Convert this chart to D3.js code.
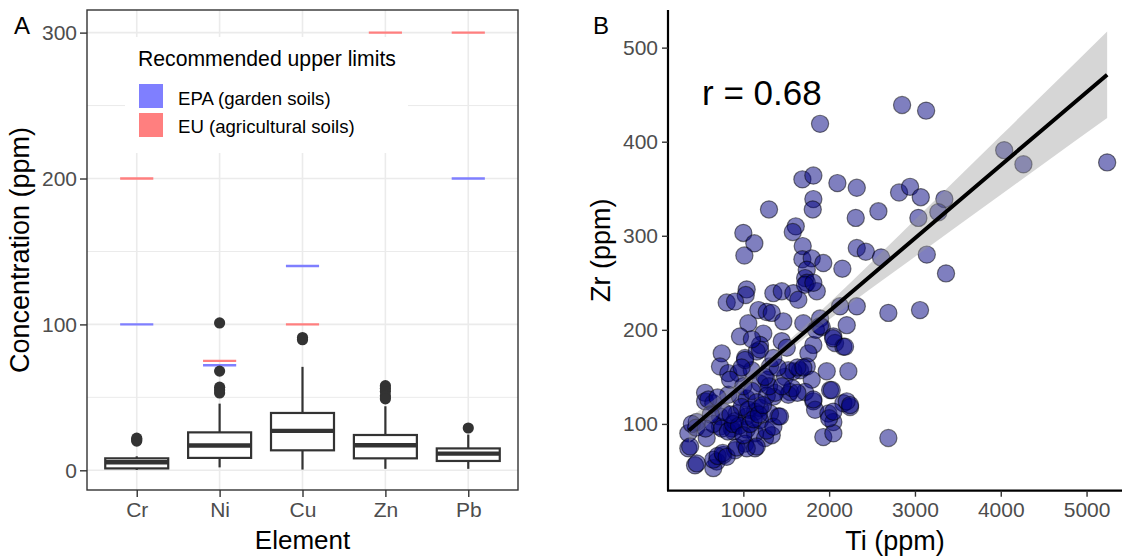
<!DOCTYPE html>
<html>
<head>
<meta charset="utf-8">
<script src="https://cdn.jsdelivr.net/npm/d3@7"></script>
<style>
  body { margin: 0; background: #fff; }
  text { font-family: "Liberation Sans", Arial, Helvetica, sans-serif; }
</style>
</head>
<body>
<script>
// ---- Panel A data ----
var elements = ["Cr", "Ni", "Cu", "Zn", "Pb"];
var whiskerLow = [0.3, 2, 0.5, 1, 1];
var q1 = [1.3, 8.5, 13.7, 8.2, 6.4];
var medians = [5.5, 17, 27, 17.2, 11.4];
var q3 = [8.2, 26, 39.3, 24.2, 15];
var whiskerHigh = [9.6, 45.7, 70.9, 43.9, 24.5];
var outliers = [[20, 21, 22], [101, 68, 57, 55, 53], [91, 89.5], [58, 56, 54, 51, 49], [29]];
var epaLimits = [100, 72, 140, null, 200];
var euLimits = [200, 75, 100, 300, 300];
var yTicksA = [0, 100, 200, 300];
var yMinorA = [50, 150, 250];
var legendLabels = ["EPA (garden soils)", "EU (agricultural soils)"];

// ---- Panel B data ----
var tiValues = [2850, 3130, 1894, 4040, 4264, 5240, 1688, 1816, 2096, 2322, 1816, 1809, 1299,
  2815, 2943, 3068, 3343, 3273, 3040, 2574, 2310, 1611, 1576, 1000, 1128, 1012, 1692, 2322, 2427, 2605, 3138,
  1688, 1797, 1932, 2154, 3362, 1739, 1720, 1740,
  1039, 1028, 806, 903, 1350, 1448, 1583, 1641, 1719, 1856, 1816,
  2322, 2127, 2690, 3059, 2205, 1175, 1273, 1331, 1058, 961, 1233,
  1466, 1699, 1894, 1914, 2049, 2069, 2166, 1194, 1448, 1506,
  748, 1020, 1156, 1816, 1758, 1661, 1739, 1583, 1486, 1972, 2224,
  728, 825, 942, 1098, 1273, 1194, 1797, 2011, 1544, 1524,
  554, 554, 650, 825, 961, 1039, 1350, 1719, 1816, 1836, 1991, 2049,
  2166, 2244, 1932, 2049, 2690, 1408, 1311, 1136, 1039, 923, 1194,
  457, 359, 573, 728, 865, 884, 1039, 1136, 1253, 1331, 1020, 1136, 903,
  767, 690, 650, 437, 359, 728, 767,
  1846, 1894, 2046, 2185, 1020, 1194, 1311, 1524, 1630, 1700,
  592, 845, 1000, 1100, 1273, 1370, 1570, 1630, 1816, 2030,
  2000, 2049, 2205, 2244, 400, 450, 650, 750, 820, 903, 980, 1060, 1156,
  1194, 1273, 1350, 1427, 380, 457, 650, 700, 760, 806, 923, 1040, 1156,
  880, 950, 1000, 1080, 1120, 1180, 1230, 1300, 1250, 1400, 1350, 1450, 980, 1100, 850, 700, 620, 560];
var zrValues = [439, 433, 419, 391, 376, 378, 360, 364, 356, 351, 339, 328, 328,
  346, 352, 341, 339, 325, 319, 326, 319, 310, 304, 303, 292, 279, 289, 287, 283, 277, 280,
  275, 276, 271, 265, 260, 264, 255, 250,
  243, 237, 229, 230, 239, 241, 239, 232, 248, 241, 250,
  225, 225, 218, 221, 205, 221, 219, 218, 207, 193, 196,
  209, 207, 212, 203, 193, 186, 182, 184, 188, 181,
  175, 170, 177, 184, 175, 157, 161, 156, 150, 156, 156,
  161, 154, 154, 157, 147, 143, 147, 136, 134, 131,
  133, 124, 122, 131, 129, 127, 129, 134, 124, 115, 111, 102,
  122, 118, 86, 90, 85, 108, 111, 113, 108, 111, 117,
  102, 90, 85, 97, 95, 92, 94, 90, 85, 88, 79, 74, 72,
  67, 60, 53, 56, 74, 108, 113,
  200, 204, 191, 182, 168, 179, 161, 157, 160, 160,
  126, 147, 140, 135, 130, 133, 138, 133, 126, 136,
  106, 113, 124, 120, 100, 96, 100, 95, 92, 103, 118, 115, 123,
  104, 93, 97, 108, 76, 58, 62, 66, 69, 65, 75, 74, 76,
  100, 98, 88, 100, 105, 110, 120, 140, 150, 160, 170, 140, 160, 190, 110, 128, 110, 95];
// fitted line and 95% band
var bandTi = [365, 800, 1400, 2000, 2500, 3000, 3500, 4000, 4500, 5240];
var bandFit = [92.9, 126.7, 173.2, 219.8, 258.6, 297.4, 336.2, 375, 413.8, 471.2];
var bandHalf = [13, 8.8, 5, 8.7, 13.9, 19.7, 25.5, 31.3, 37.2, 46];
var xTicksB = [1000, 2000, 3000, 4000, 5000];
var yTicksB = [100, 200, 300, 400, 500];
var rLabel = "r = 0.68";

var svg = d3.select("body").append("svg")
  .attr("width", 1126)
  .attr("height", 559);

var tickGrey = "#4d4d4d";

// ================= Panel A =================
var panelA = { left: 87, right: 518, top: 10, bottom: 490 };

var xA = d3.scalePoint()
  .domain(elements)
  .range([panelA.left, panelA.right])
  .padding(0.6);
var stepA = xA.step();

var yA = d3.scaleLinear()
  .domain([-13.5, 315.5])
  .range([panelA.bottom, panelA.top]);

var gA = svg.append("g");

// grid
gA.selectAll(".minor").data(yMinorA).enter().append("line")
  .attr("x1", panelA.left).attr("x2", panelA.right)
  .attr("y1", d => yA(d)).attr("y2", d => yA(d))
  .attr("stroke", "#ebebeb").attr("stroke-width", 1);
gA.selectAll(".major").data(yTicksA).enter().append("line")
  .attr("x1", panelA.left).attr("x2", panelA.right)
  .attr("y1", d => yA(d)).attr("y2", d => yA(d))
  .attr("stroke", "#ebebeb").attr("stroke-width", 1.6);
gA.selectAll(".vgrid").data(elements).enter().append("line")
  .attr("x1", d => xA(d)).attr("x2", d => xA(d))
  .attr("y1", panelA.top).attr("y2", panelA.bottom)
  .attr("stroke", "#ebebeb").attr("stroke-width", 1.6);

// limit segments
var segHalf = stepA * 0.2;
function limitSegs(vals, color) {
  elements.forEach(function(el, i) {
    if (vals[i] == null) return;
    gA.append("line")
      .attr("x1", xA(el) - segHalf).attr("x2", xA(el) + segHalf)
      .attr("y1", yA(vals[i])).attr("y2", yA(vals[i]))
      .attr("stroke", color).attr("stroke-width", 2.4);
  });
}
limitSegs(epaLimits, "#7f7fff");
limitSegs(euLimits, "#ff7f7f");

// boxplots
var boxHalf = stepA * 0.38;
elements.forEach(function(el, i) {
  var cx = xA(el);
  var b = gA.append("g");
  b.append("line")
    .attr("x1", cx).attr("x2", cx)
    .attr("y1", yA(whiskerHigh[i])).attr("y2", yA(q3[i]))
    .attr("stroke", "#333").attr("stroke-width", 2.2);
  b.append("line")
    .attr("x1", cx).attr("x2", cx)
    .attr("y1", yA(q1[i])).attr("y2", yA(whiskerLow[i]))
    .attr("stroke", "#333").attr("stroke-width", 2.2);
  b.append("rect")
    .attr("x", cx - boxHalf).attr("width", boxHalf * 2)
    .attr("y", yA(q3[i])).attr("height", yA(q1[i]) - yA(q3[i]))
    .attr("fill", "#fff").attr("stroke", "#333").attr("stroke-width", 2.2);
  b.append("line")
    .attr("x1", cx - boxHalf).attr("x2", cx + boxHalf)
    .attr("y1", yA(medians[i])).attr("y2", yA(medians[i]))
    .attr("stroke", "#333").attr("stroke-width", 4.4);
  b.selectAll("circle").data(outliers[i]).enter().append("circle")
    .attr("cx", cx).attr("cy", d => yA(d)).attr("r", 5.6)
    .attr("fill", "#333");
});

// legend (sits on the panel with white background)
var legG = gA.append("g");
legG.append("rect")
  .attr("x", 125).attr("y", 37).attr("width", 283).attr("height", 116)
  .attr("fill", "#fff");
legG.append("text")
  .attr("x", 138).attr("y", 66)
  .attr("font-size", 21.2).attr("fill", "#000")
  .text("Recommended upper limits");
var legColors = ["#7f7fff", "#ff7f7f"];
legendLabels.forEach(function(lab, i) {
  legG.append("rect")
    .attr("x", 139).attr("y", 84 + i * 29).attr("width", 24).attr("height", 24)
    .attr("fill", legColors[i]);
  legG.append("text")
    .attr("x", 178).attr("y", 98 + i * 28.5).attr("dy", "0.35em")
    .attr("font-size", 18.6).attr("fill", "#000")
    .text(lab);
});

// panel border
gA.append("rect")
  .attr("x", panelA.left).attr("y", panelA.top)
  .attr("width", panelA.right - panelA.left).attr("height", panelA.bottom - panelA.top)
  .attr("fill", "none").attr("stroke", "#333").attr("stroke-width", 1.4);

// axes
var axisLeftA = gA.append("g")
  .attr("transform", `translate(${panelA.left},0)`)
  .call(d3.axisLeft(yA).tickValues(yTicksA).tickSize(7).tickPadding(3));
var axisBottomA = gA.append("g")
  .attr("transform", `translate(0,${panelA.bottom})`)
  .call(d3.axisBottom(xA).tickSize(7).tickPadding(5));
[axisLeftA, axisBottomA].forEach(function(ax) {
  ax.select(".domain").remove();
  ax.selectAll(".tick line").attr("stroke", "#333").attr("stroke-width", 1.4);
  ax.selectAll(".tick text").attr("fill", tickGrey).attr("font-size", 21)
    .style("font-family", "'Liberation Sans', Arial, sans-serif");
});

gA.append("text")
  .attr("transform", `translate(29,${(panelA.top + panelA.bottom) / 2}) rotate(-90)`)
  .attr("text-anchor", "middle")
  .attr("font-size", 27)
  .text("Concentration (ppm)");
gA.append("text")
  .attr("x", (panelA.left + panelA.right) / 2).attr("y", 549)
  .attr("text-anchor", "middle")
  .attr("font-size", 26)
  .text("Element");
gA.append("text")
  .attr("x", 14).attr("y", 34)
  .attr("font-size", 24)
  .text("A");

// ================= Panel B =================
var panelB = { left: 668, right: 1122, top: 10, bottom: 490.7 };

var xB = d3.scaleLinear()
  .domain([122, 5413])
  .range([panelB.left, panelB.right]);
var yB = d3.scaleLinear()
  .domain([29, 540])
  .range([panelB.bottom, panelB.top]);

var gB = svg.append("g");

gB.selectAll("circle").data(tiValues).enter().append("circle")
  .attr("cx", d => xB(d))
  .attr("cy", (d, i) => yB(zrValues[i]))
  .attr("r", 8.6)
  .attr("fill", "navy").attr("fill-opacity", 0.5)
  .attr("stroke", "#000").attr("stroke-opacity", 0.5).attr("stroke-width", 1.2);

var band = bandTi.map(function(t, i) {
  return { t: t, lo: bandFit[i] - bandHalf[i], hi: bandFit[i] + bandHalf[i], fit: bandFit[i] };
});
gB.append("path")
  .datum(band)
  .attr("d", d3.area()
    .x(d => xB(d.t))
    .y0(d => yB(d.lo))
    .y1(d => yB(d.hi))
    .curve(d3.curveMonotoneX))
  .attr("fill", "#999").attr("fill-opacity", 0.4);
gB.append("path")
  .datum(band)
  .attr("d", d3.line().x(d => xB(d.t)).y(d => yB(d.fit)))
  .attr("fill", "none").attr("stroke", "#000").attr("stroke-width", 4);

var axisLeftB = gB.append("g")
  .attr("transform", `translate(${panelB.left},0)`)
  .call(d3.axisLeft(yB).tickValues(yTicksB).tickSize(6).tickPadding(4));
var axisBottomB = gB.append("g")
  .attr("transform", `translate(0,${panelB.bottom})`)
  .call(d3.axisBottom(xB).tickValues(xTicksB).tickFormat(d3.format("d")).tickSize(6).tickPadding(5));
[axisLeftB, axisBottomB].forEach(function(ax) {
  ax.select(".domain").attr("stroke", "#000").attr("stroke-width", 2.2);
  ax.selectAll(".tick line").attr("stroke", "#333").attr("stroke-width", 1.4);
  ax.selectAll(".tick text").attr("fill", tickGrey).attr("font-size", 21)
    .style("font-family", "'Liberation Sans', Arial, sans-serif");
});
axisLeftB.select(".domain").attr("d", `M0,${panelB.top}V${panelB.bottom}`);
axisBottomB.select(".domain").attr("d", `M${panelB.left - 1},0H${panelB.right}`);

gB.append("text")
  .attr("x", 702).attr("y", 105)
  .attr("font-size", 35)
  .text(rLabel);
gB.append("text")
  .attr("transform", `translate(610,${(panelB.top + panelB.bottom) / 2}) rotate(-90)`)
  .attr("text-anchor", "middle")
  .attr("font-size", 27)
  .text("Zr (ppm)");
gB.append("text")
  .attr("x", (panelB.left + panelB.right) / 2).attr("y", 550)
  .attr("text-anchor", "middle")
  .attr("font-size", 27)
  .text("Ti (ppm)");
gB.append("text")
  .attr("x", 593).attr("y", 34)
  .attr("font-size", 24)
  .text("B");
</script>
</body>
</html>
